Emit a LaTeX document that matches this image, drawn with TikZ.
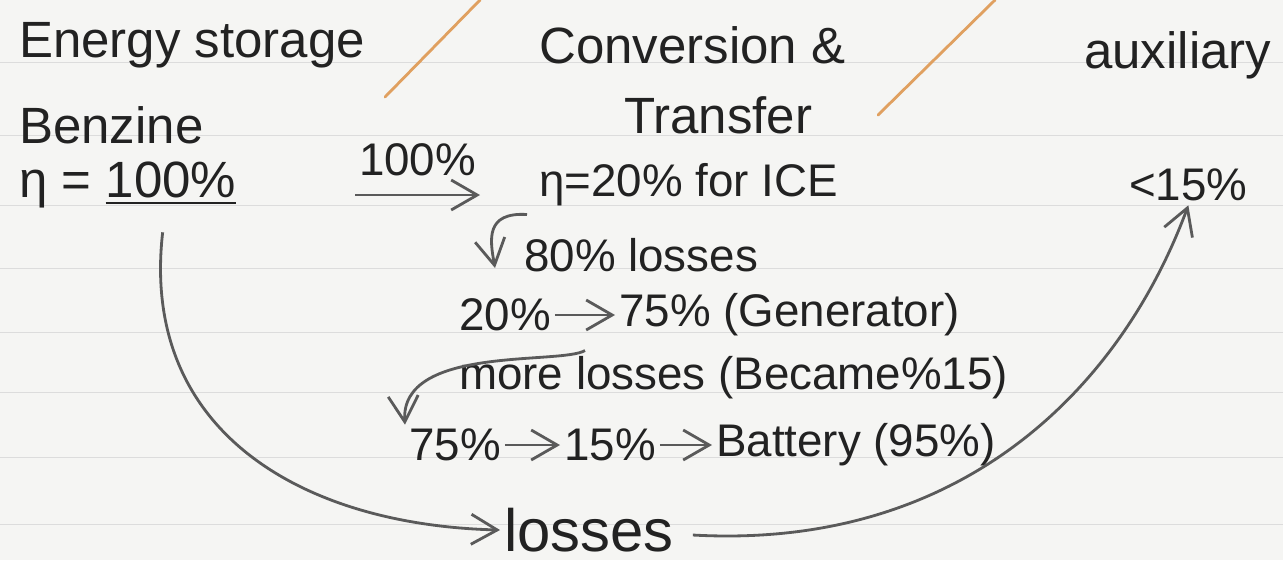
\documentclass[tikz,border=0pt]{standalone}
\usepackage{fontspec}
\setmainfont{Liberation Sans}
\usetikzlibrary{arrows.meta,positioning}
\definecolor{ink}{HTML}{222222}
\definecolor{pen}{HTML}{5A5A5A}
\definecolor{paper}{HTML}{F5F5F3}
\definecolor{rule}{HTML}{DCDCDC}
\definecolor{marker}{HTML}{E0A060}

\begin{document}
\begin{tikzpicture}[
  x=0.01cm, y=-0.01cm,
  font=\fontsize{13}{15}\selectfont,
  txt/.style={text=ink, inner sep=1pt, anchor=west},
  head/.style={txt, font=\fontsize{14.5}{16}\selectfont},
  big/.style={txt, font=\fontsize{17}{19}\selectfont},
  arr/.style={-{Straight Barb[length=2.6mm,width=3mm]}, draw=pen, thick},
  sep/.style={draw=marker, thick, line cap=round}
]
\useasboundingbox[fill=paper] (0,0) rectangle (1283,560);

% ruled lines of the paper
\foreach \y in {62,135,205,268,332,392,457,524}
  \draw[rule, very thin] (0,\y) -- (1283,\y);

% column heads
\node[head] (storage) at (15,45) {Energy storage};
\node[head] (conv) at (535,45) {Conversion \&};
\node[head] (transf) at (620,115) {Transfer};
\node[head] (aux) at (1080,55) {auxiliary};

\draw[sep] (385,97) -- (480,0);
\draw[sep] (878,115) -- (995,0);

% storage column
\node[head] (benz) at (15,125) {Benzine};
\node[head] (eta100) at (15,185) {η = \underline{100\%}};

% conversion column
\node[txt] (eta20) at (535,185) {η=20\% for ICE};
\node[txt] (loss80) at (520,255) {80\% losses};
\node[txt] (p20) at (455,315) {20\%};
\node[txt] (p75) at (615,315) {75\% (Generator)};
\node[txt] (more) at (455,378) {more losses (Became\%15)};
\node[txt] (q75) at (405,445) {75\%};
\node[txt] (q15) at (560,445) {15\%};
\node[txt] (batt) at (712,445) {Battery (95\%)};
\node[big] (losses) at (500,530) {losses};

% auxiliary column
\node[txt] (lt15) at (1125,185) {<15\%};

\coordinate (in1) at (355,195);
\coordinate (in2) at (480,195);
\coordinate (c80) at (495,268);
\draw[arr] (in1) -- node[txt, anchor=south, yshift=4pt] (lbl100) {100\%} (in2);

\draw[arr] (p20) -- (p75);
\draw[arr] (q75) -- (q15);
\draw[arr] (q15) -- (batt);

\draw[arr] (eta20.south west) ++(-8,4) .. controls (485,212) and (490,240) .. (c80);
\draw[arr] (p75.south west) ++(-30,10) .. controls (560,365) and (400,345) .. (q75.north west);
\draw[arr] (eta100.south) ++(35,20) .. controls (140,430) and (300,525) .. (losses.west);
\draw[arr] (losses.east) ++(15,5) .. controls (960,550) and (1120,390) .. (lt15.south);

\end{tikzpicture}
\end{document}
